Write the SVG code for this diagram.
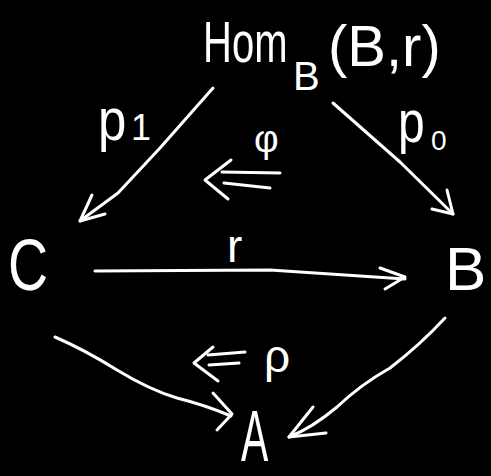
<svg xmlns="http://www.w3.org/2000/svg" width="491" height="476" viewBox="0 0 491 476">
<style>
.bg{fill:#000}
.t{fill:#fff;font-family:"Liberation Sans","DejaVu Sans",sans-serif}
.s{fill:none;stroke:#fff;stroke-width:3;stroke-linecap:round;stroke-linejoin:round}
</style>
<rect class="bg" x="0" y="0" width="491" height="476"/>
<g id="node-hom">
<text class="t" transform="translate(203,62) scale(0.69,1)" x="0" y="0" font-size="58">Hom</text>
<text class="t" x="293" y="90" font-size="40">B</text>
<text class="t" x="328" y="66" font-size="58">(B,r)</text>
</g>
<g id="node-C"><text class="t" transform="translate(8,290) scale(0.77,1)" x="0" y="0" font-size="72">C</text></g>
<g id="node-B"><text class="t" x="445" y="290" font-size="62">B</text></g>
<g id="node-A"><text class="t" transform="translate(241,461) scale(0.62,1.1)" x="0" y="0" font-size="66">A</text></g>
<g id="connectors">
<!-- p1 -->
<path class="s" d="M213,88 L160,148 L118,193 L80,221"/>
<path class="s" d="M92,195 L80,221 L105,214"/>
<text class="t" transform="translate(98,140) scale(0.85,1)" x="0" y="0" font-size="60">p</text>
<text class="t" x="131" y="140" font-size="36">1</text>
<!-- p0 -->
<path class="s" d="M333,103 L400,162 L453,214"/>
<path class="s" d="M447,190 L453,214 L432,209"/>
<text class="t" transform="translate(398,142) scale(0.8,1)" x="0" y="0" font-size="60">p</text>
<text class="t" x="431" y="150" font-size="28">0</text>
<!-- phi -->
<path class="s" d="M222,172 L280,173"/>
<path class="s" d="M224,183 L270,188"/>
<path class="s" d="M231,160 L205,180 L228,199"/>
<text class="t" x="254" y="152" font-size="38">φ</text>
<!-- r -->
<path class="s" d="M95,271 L270,270 L405,279"/>
<path class="s" d="M380,268 L405,277 L385,289"/>
<text class="t" x="227" y="262" font-size="46">r</text>
<!-- C to A -->
<path class="s" d="M55,337 Q85,350 117,370 Q150,390 177,398 Q205,405 231,416"/>
<path class="s" d="M213,393 L232,414 L217,430"/>
<!-- rho -->
<path class="s" d="M245,352 L208,355"/>
<path class="s" d="M239,363 L209,365"/>
<path class="s" d="M213,347 L194,363 L218,381"/>
<text class="t" x="264" y="372" font-size="46">ρ</text>
<!-- B to A -->
<path class="s" d="M445,318 Q420,345 390,368 Q360,385 337,407 Q312,428 289,437"/>
<path class="s" d="M313,407 L289,437 L326,433"/>
</g>
</svg>
